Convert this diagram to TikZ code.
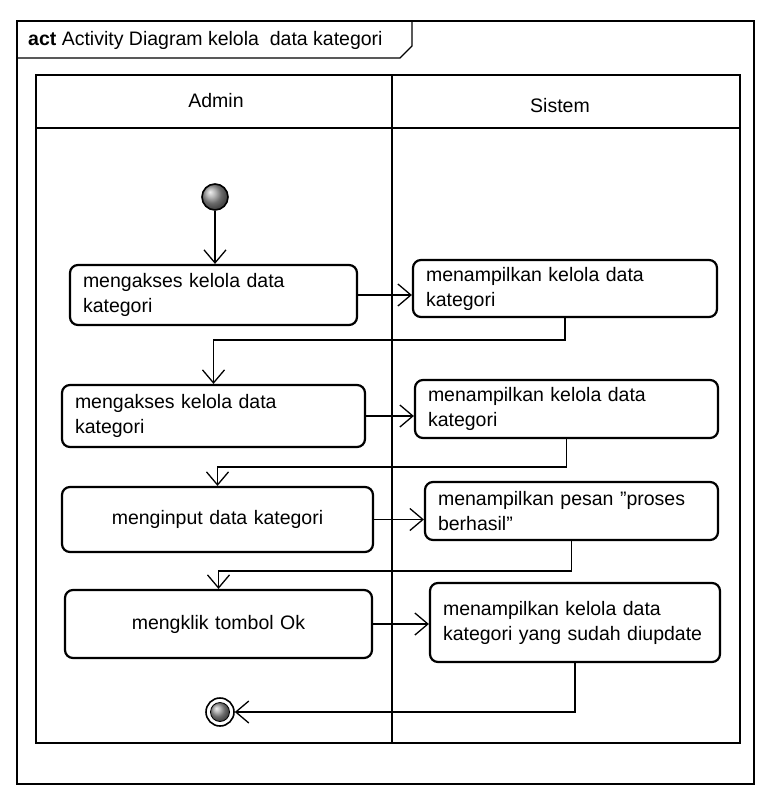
\documentclass[tikz,border=0pt]{standalone}
\usepackage{fontspec}
\setmainfont{Liberation Sans}
\usetikzlibrary{arrows.meta,calc,shadings}
\begin{document}
\begin{tikzpicture}[x=1pt,y=-1pt,
  txt/.style={font=\fontsize{19.5}{25}\selectfont},
  act/.style={draw, line width=2.2pt, rounded corners=8pt, inner xsep=13pt,
              align=left, txt},
  flow/.style={line width=1.3pt, -{Straight Barb[length=13pt,width=22pt,line width=1.3pt]}},
  lane/.style={line width=2.8pt},
  frame/.style={line width=1.4pt}]
\useasboundingbox (0,0) rectangle (757,797);

% outer diagram frame with its name tab
\draw[frame] (17,21) rectangle (754,784);
\draw[frame] (17,58) -- (400,58) -- (412,46) -- (412,21);
\node[txt, anchor=base west, inner sep=0pt] (title) at (28,46)
  {\textbf{act} Activity Diagram kelola\ \ data kategori};

% swimlanes
\draw[lane] (36,75) rectangle (740,743);
\draw[lane] (36,128) -- (740,128);
\draw[lane] (392,75) -- (392,743);
\node[txt] (adm) at (216,101) {Admin};
\node[txt] (sis) at (560,106) {Sistem};

% start and end nodes
\node[circle, draw, line width=1.6pt, minimum size=26pt, inner sep=0pt,
      shading=ball, ball color=gray!80] (start) at (215,197) {};
\node[circle, draw, line width=1.6pt, minimum size=28pt, inner sep=0pt] (stop) at (220,712) {};
\node[circle, draw, line width=0.8pt, minimum size=19pt, inner sep=0pt,
      shading=ball, ball color=gray!80] (stopin) at (stop) {};

% actions: Admin lane
\node[act, minimum width=287pt, minimum height=60pt, text width=261pt] (a1) at (213.5,295)
  {mengakses kelola data\\kategori};
\node[act, minimum width=303pt, minimum height=62pt, text width=277pt] (a2) at (213.5,416)
  {mengakses kelola data\\kategori};
\node[act, minimum width=311pt, minimum height=65pt, text width=285pt, align=center] (a3) at (217.5,519.5)
  {menginput data kategori};
\node[act, minimum width=307pt, minimum height=68pt, text width=281pt, align=center] (a4) at (218.5,624)
  {mengklik tombol Ok};

% actions: Sistem lane
\node[act, minimum width=304pt, minimum height=57pt, text width=278pt] (s1) at (565,288.5)
  {menampilkan kelola data\\kategori};
\node[act, minimum width=303pt, minimum height=58pt, text width=277pt] (s2) at (566.5,409)
  {menampilkan kelola data\\kategori};
\node[act, minimum width=293pt, minimum height=58pt, text width=267pt] (s3) at (571.5,511)
  {menampilkan pesan \symbol{34}proses\\berhasil\symbol{34}};
\node[act, minimum width=290pt, minimum height=79pt, text width=264pt] (s4) at (575,622.5)
  {menampilkan kelola data\\kategori yang sudah diupdate};

% control flows
\draw[flow] (start) -- (a1.north -| start);
\draw[flow] (a1.east) -- (s1.west |- a1.east);
\draw[flow] (s1.south) -- ++(0,22) -| (a2.north);
\draw[flow] (a2.east) -- (s2.west |- a2.east);
\draw[flow] (s2.south) -- ++(0,28) -| (a3.north);
\draw[flow] (a3.east) -- (s3.west |- a3.east);
\draw[flow] (s3.south) -- ++(0,30) -| (a4.north);
\draw[flow] (a4.east) -- (s4.west |- a4.east);
\draw[flow] (s4.south) |- (stop.east);
\end{tikzpicture}
\end{document}
